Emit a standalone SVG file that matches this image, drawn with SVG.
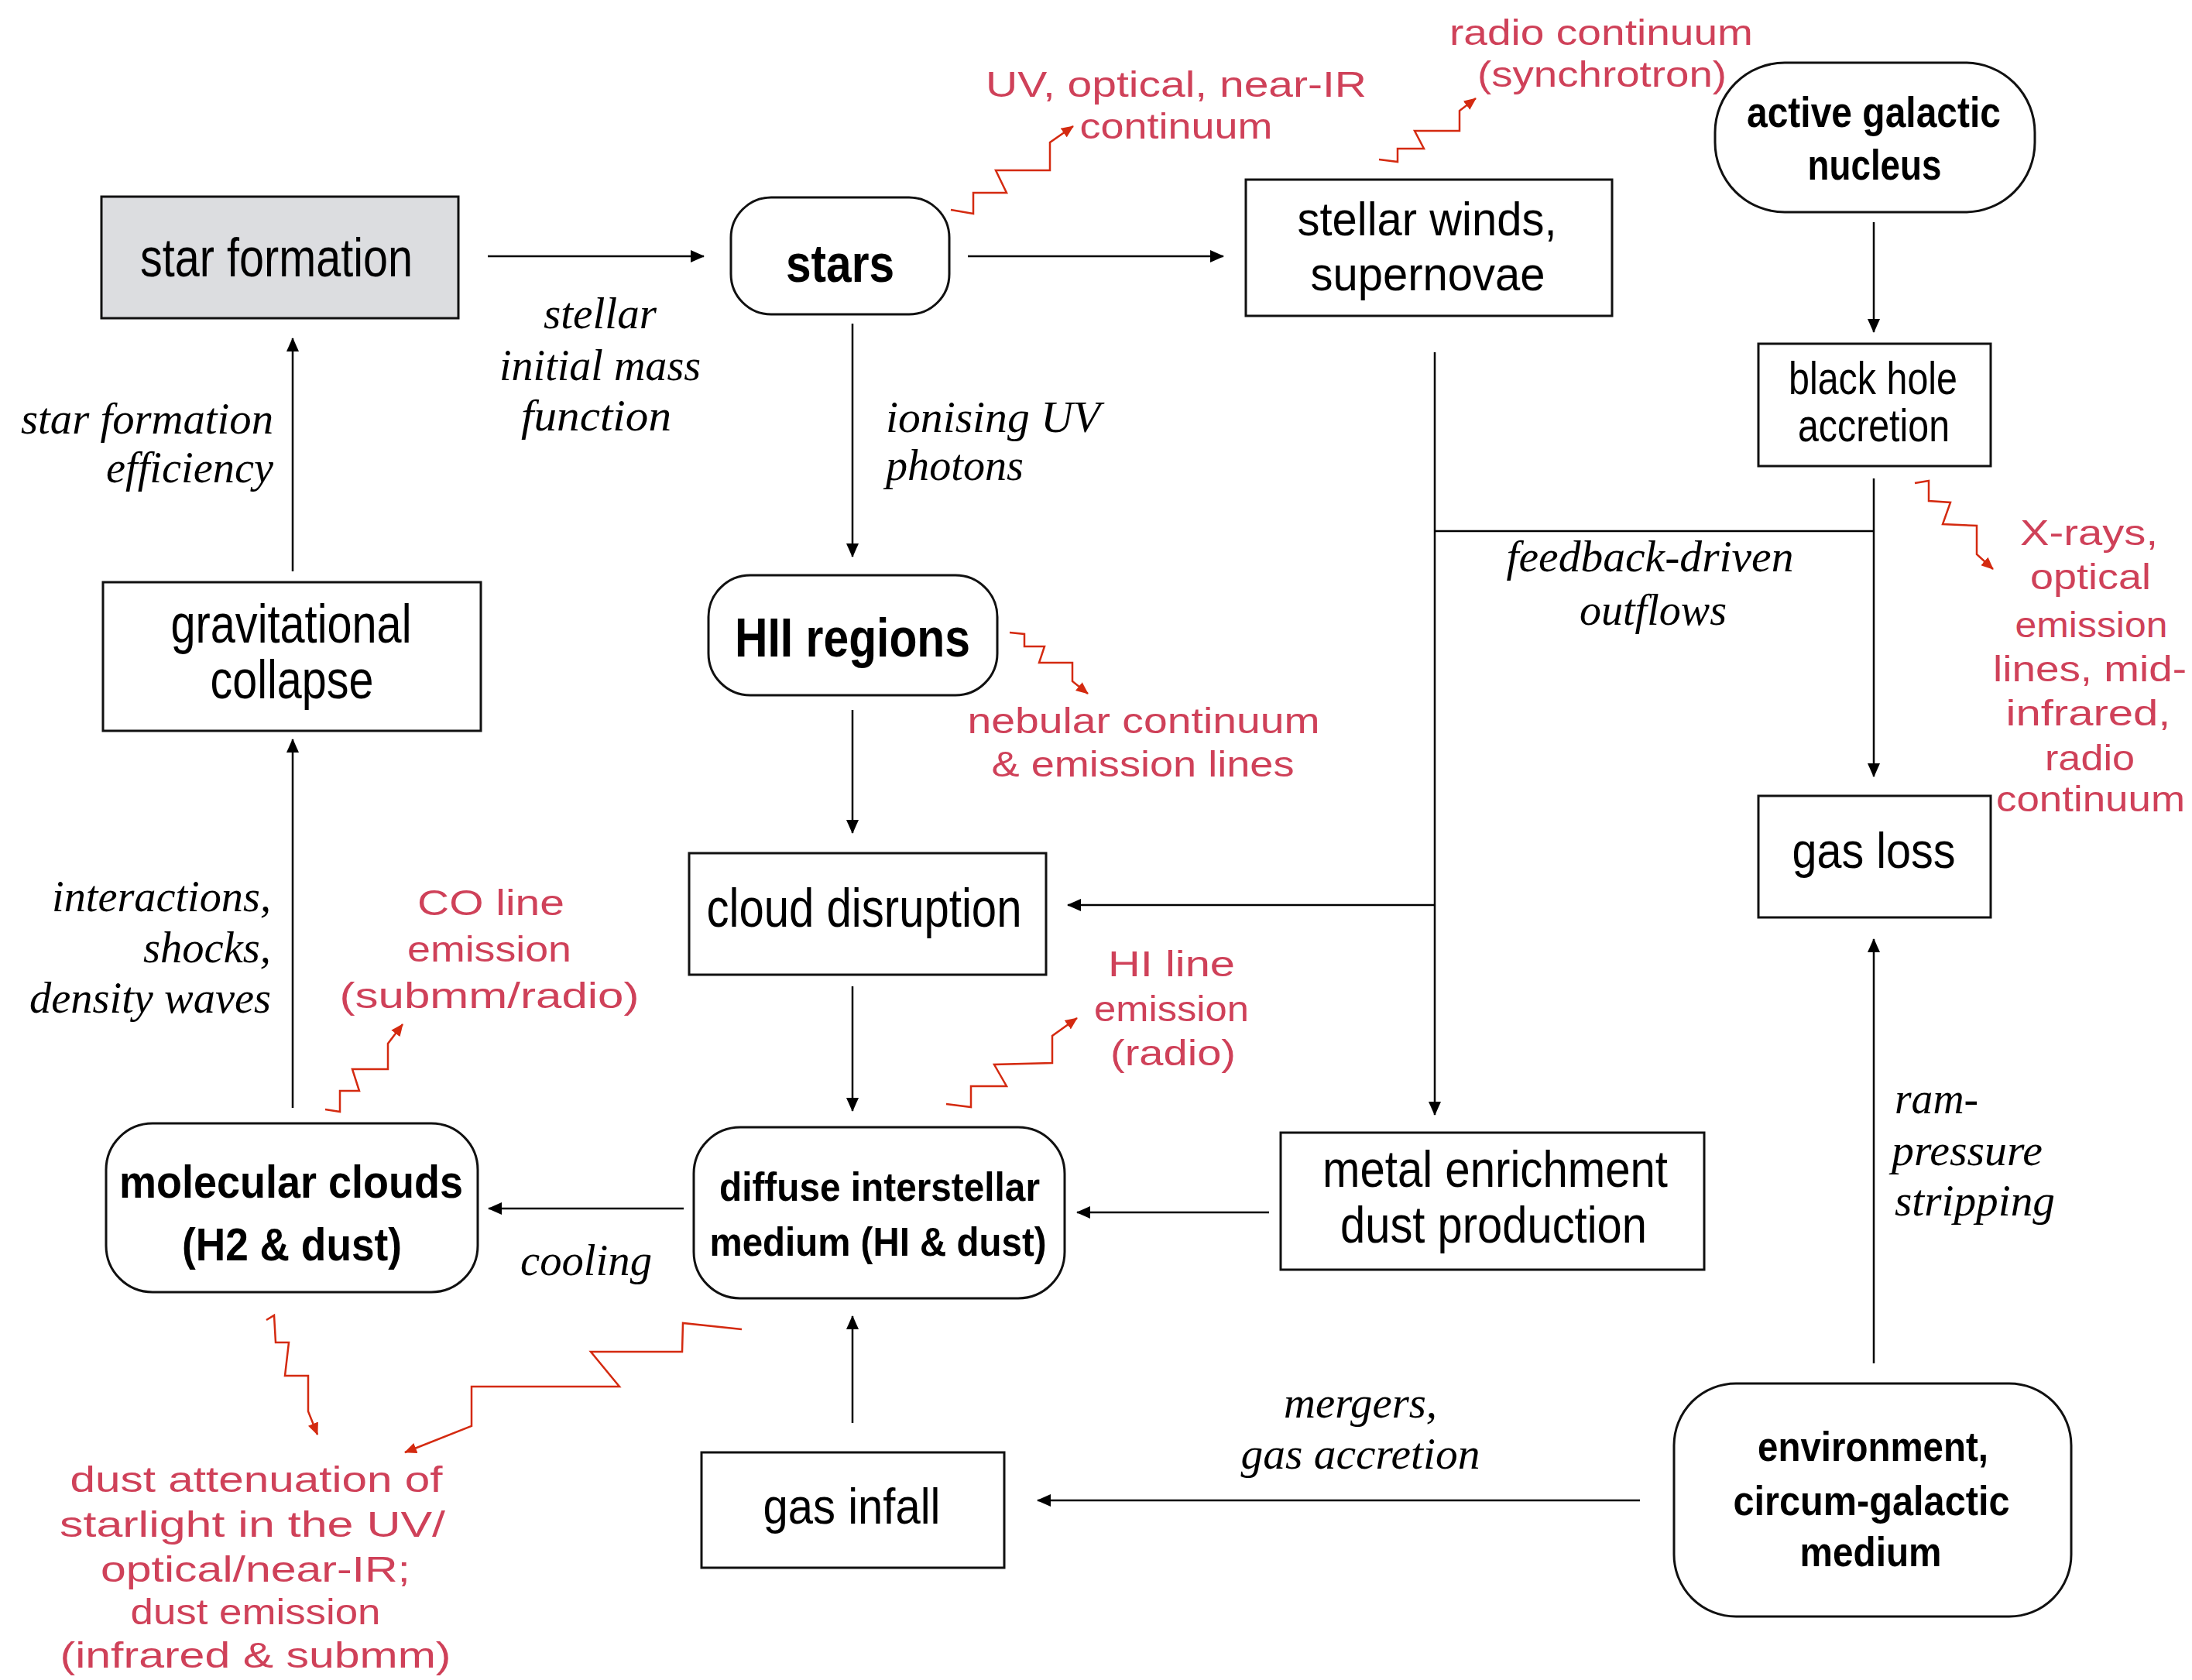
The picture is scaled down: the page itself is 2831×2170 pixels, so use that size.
<svg xmlns="http://www.w3.org/2000/svg" width="2831" height="2170" viewBox="0 0 2831 2170">
<defs>
<style>
.box{fill:#fff;stroke:#111;stroke-width:3}
.t{font-family:"Liberation Sans",Arial,sans-serif;fill:#000;text-anchor:middle}
.b{font-weight:bold}
.i{font-family:"Liberation Serif","Times New Roman",serif;font-style:italic;fill:#000}
.r{font-family:"Liberation Sans",Arial,sans-serif;fill:#cf4159;text-anchor:middle;font-size:46px}
.c{fill:none;stroke:#000;stroke-width:2.5}
.w{fill:none;stroke:#d42a10;stroke-width:2.5;stroke-linejoin:miter}
</style>
<marker id="ah" markerUnits="userSpaceOnUse" markerWidth="18" markerHeight="18" viewBox="0 0 18 16" refX="17" refY="8" orient="auto">
<path d="M0,0 L18,8 L0,16 Z" fill="#000"/>
</marker>
<marker id="rh" markerUnits="userSpaceOnUse" markerWidth="16" markerHeight="14" viewBox="0 0 16 14" refX="15" refY="7" orient="auto">
<path d="M0,0 L16,7 L0,14 Z" fill="#d42a10"/>
</marker>
</defs>
<rect width="2831" height="2170" fill="#fff"/>

<g id="connectors">
<path class="c" d="M630,331 H909" marker-end="url(#ah)"/>
<path class="c" d="M1250,331 H1580" marker-end="url(#ah)"/>
<path class="c" d="M1101,418 V719" marker-end="url(#ah)"/>
<path class="c" d="M1101,917 V1076" marker-end="url(#ah)"/>
<path class="c" d="M1101,1274 V1435" marker-end="url(#ah)"/>
<path class="c" d="M1853,455 V1440" marker-end="url(#ah)"/>
<path class="c" d="M1853,1169 H1379" marker-end="url(#ah)"/>
<path class="c" d="M1853,686 H2420"/>
<path class="c" d="M2420,618 V1003" marker-end="url(#ah)"/>
<path class="c" d="M2420,287 V429" marker-end="url(#ah)"/>
<path class="c" d="M2420,1761 V1213" marker-end="url(#ah)"/>
<path class="c" d="M2118,1938 H1340" marker-end="url(#ah)"/>
<path class="c" d="M1101,1838 V1700" marker-end="url(#ah)"/>
<path class="c" d="M1639,1566 H1391" marker-end="url(#ah)"/>
<path class="c" d="M883,1561 H631" marker-end="url(#ah)"/>
<path class="c" d="M378,1431 V955" marker-end="url(#ah)"/>
<path class="c" d="M378,738 V437" marker-end="url(#ah)"/>
</g>

<g id="emission-arrows">
<polyline class="w" points="1228,271 1257,276 1257,249 1300,249 1286,220 1356,220 1356,184 1386,163" marker-end="url(#rh)"/>
<polyline class="w" points="1781,206 1805,209 1805,192 1839,192 1827,169 1885,169 1885,143 1906,127" marker-end="url(#rh)"/>
<polyline class="w" points="2473,624 2491,621 2491,647 2519,649 2509,677 2553,679 2553,716 2574,735" marker-end="url(#rh)"/>
<polyline class="w" points="1304,817 1323,819 1323,835 1349,835 1342,856 1385,856 1385,880 1405,896" marker-end="url(#rh)"/>
<polyline class="w" points="1222,1426 1254,1430 1254,1403 1300,1403 1284,1375 1359,1373 1359,1338 1391,1315" marker-end="url(#rh)"/>
<polyline class="w" points="420,1433 439,1436 439,1409 464,1409 455,1381 501,1381 501,1348 520,1323" marker-end="url(#rh)"/>
<polyline class="w" points="344,1705 354,1699 356,1734 373,1734 368,1777 398,1777 398,1823 410,1853" marker-end="url(#rh)"/>
<polyline class="w" points="958,1717 882,1709 881,1746 763,1746 800,1791 609,1791 609,1842 523,1876" marker-end="url(#rh)"/>
</g>

<g id="star-formation">
<rect x="131" y="254" width="461" height="157" fill="#dcdde0" stroke="#111" stroke-width="3"/>
<text class="t" x="357" y="357" font-size="70" textLength="352" lengthAdjust="spacingAndGlyphs">star formation</text>
</g>
<g id="stars">
<rect class="box" x="944" y="255" width="282" height="151" rx="52"/>
<text class="t b" x="1085" y="364" font-size="68" textLength="140" lengthAdjust="spacingAndGlyphs">stars</text>
</g>
<g id="stellar-winds">
<rect class="box" x="1609" y="232" width="473" height="176"/>
<text class="t" x="1843" y="304" font-size="62" textLength="335" lengthAdjust="spacingAndGlyphs">stellar winds,</text>
<text class="t" x="1844" y="375" font-size="62" textLength="303" lengthAdjust="spacingAndGlyphs">supernovae</text>
</g>
<g id="agn">
<rect class="box" x="2215" y="81" width="413" height="193" rx="90"/>
<text class="t b" x="2420" y="164" font-size="56" textLength="328" lengthAdjust="spacingAndGlyphs">active galactic</text>
<text class="t b" x="2421" y="232" font-size="56" textLength="173" lengthAdjust="spacingAndGlyphs">nucleus</text>
</g>
<g id="black-hole-accretion">
<rect class="box" x="2271" y="444" width="300" height="158"/>
<text class="t" x="2419" y="509" font-size="60" textLength="218" lengthAdjust="spacingAndGlyphs">black hole</text>
<text class="t" x="2420" y="570" font-size="60" textLength="196" lengthAdjust="spacingAndGlyphs">accretion</text>
</g>
<g id="gas-loss">
<rect class="box" x="2271" y="1028" width="300" height="157"/>
<text class="t" x="2420" y="1121" font-size="64" textLength="211" lengthAdjust="spacingAndGlyphs">gas loss</text>
</g>
<g id="gravitational-collapse">
<rect class="box" x="133" y="752" width="488" height="192"/>
<text class="t" x="376" y="830" font-size="70" textLength="311" lengthAdjust="spacingAndGlyphs">gravitational</text>
<text class="t" x="377" y="902" font-size="70" textLength="211" lengthAdjust="spacingAndGlyphs">collapse</text>
</g>
<g id="hii-regions">
<rect class="box" x="915" y="743" width="373" height="155" rx="54"/>
<text class="t b" x="1101" y="848" font-size="70" textLength="304" lengthAdjust="spacingAndGlyphs">HII regions</text>
</g>
<g id="cloud-disruption">
<rect class="box" x="890" y="1102" width="461" height="157"/>
<text class="t" x="1116" y="1197" font-size="70" textLength="407" lengthAdjust="spacingAndGlyphs">cloud disruption</text>
</g>
<g id="diffuse-ism">
<rect class="box" x="896" y="1456" width="479" height="221" rx="60"/>
<text class="t b" x="1136" y="1551" font-size="52" textLength="414" lengthAdjust="spacingAndGlyphs">diffuse interstellar</text>
<text class="t b" x="1134" y="1622" font-size="52" textLength="435" lengthAdjust="spacingAndGlyphs">medium (HI &amp; dust)</text>
</g>
<g id="metal-enrichment">
<rect class="box" x="1654" y="1463" width="547" height="177"/>
<text class="t" x="1931" y="1533" font-size="66" textLength="446" lengthAdjust="spacingAndGlyphs">metal enrichment</text>
<text class="t" x="1929" y="1605" font-size="66" textLength="396" lengthAdjust="spacingAndGlyphs">dust production</text>
</g>
<g id="molecular-clouds">
<rect class="box" x="137" y="1451" width="480" height="218" rx="60"/>
<text class="t b" x="376" y="1547" font-size="60" textLength="444" lengthAdjust="spacingAndGlyphs">molecular clouds</text>
<text class="t b" x="377" y="1628" font-size="60" textLength="284" lengthAdjust="spacingAndGlyphs">(H2 &amp; dust)</text>
</g>
<g id="gas-infall">
<rect class="box" x="906" y="1876" width="391" height="149"/>
<text class="t" x="1100" y="1968" font-size="64" textLength="229" lengthAdjust="spacingAndGlyphs">gas infall</text>
</g>
<g id="environment">
<rect class="box" x="2162" y="1787" width="513" height="301" rx="80"/>
<text class="t b" x="2419" y="1887" font-size="54" textLength="298" lengthAdjust="spacingAndGlyphs">environment,</text>
<text class="t b" x="2417" y="1957" font-size="54" textLength="357" lengthAdjust="spacingAndGlyphs">circum-galactic</text>
<text class="t b" x="2416" y="2023" font-size="54" textLength="183" lengthAdjust="spacingAndGlyphs">medium</text>
</g>

<g id="process-labels" font-size="56">
<text class="i" x="775" y="424" text-anchor="middle" textLength="146" lengthAdjust="spacingAndGlyphs">stellar</text>
<text class="i" x="775" y="491" text-anchor="middle" textLength="260" lengthAdjust="spacingAndGlyphs">initial mass</text>
<text class="i" x="770" y="556" text-anchor="middle" textLength="194" lengthAdjust="spacingAndGlyphs">function</text>
<text class="i" x="353" y="560" text-anchor="end" textLength="326" lengthAdjust="spacingAndGlyphs">star formation</text>
<text class="i" x="353" y="623" text-anchor="end" textLength="216" lengthAdjust="spacingAndGlyphs">efficiency</text>
<text class="i" x="1144" y="558" textLength="277" lengthAdjust="spacingAndGlyphs">ionising UV</text>
<text class="i" x="1144" y="620" textLength="178" lengthAdjust="spacingAndGlyphs">photons</text>
<text class="i" x="2131" y="738" text-anchor="middle" textLength="371" lengthAdjust="spacingAndGlyphs">feedback-driven</text>
<text class="i" x="2135" y="807" text-anchor="middle" textLength="190" lengthAdjust="spacingAndGlyphs">outflows</text>
<text class="i" x="350" y="1177" text-anchor="end" textLength="283" lengthAdjust="spacingAndGlyphs">interactions,</text>
<text class="i" x="350" y="1243" text-anchor="end" textLength="165" lengthAdjust="spacingAndGlyphs">shocks,</text>
<text class="i" x="350" y="1308" text-anchor="end" textLength="312" lengthAdjust="spacingAndGlyphs">density waves</text>
<text class="i" x="757" y="1647" text-anchor="middle" textLength="170" lengthAdjust="spacingAndGlyphs">cooling</text>
<text class="i" x="1757" y="1831" text-anchor="middle" textLength="198" lengthAdjust="spacingAndGlyphs">mergers,</text>
<text class="i" x="1757" y="1897" text-anchor="middle" textLength="309" lengthAdjust="spacingAndGlyphs">gas accretion</text>
<text class="i" x="2447" y="1438" textLength="108" lengthAdjust="spacingAndGlyphs">ram-</text>
<text class="i" x="2443" y="1505" textLength="195" lengthAdjust="spacingAndGlyphs">pressure</text>
<text class="i" x="2447" y="1570" textLength="207" lengthAdjust="spacingAndGlyphs">stripping</text>
</g>

<g id="emission-labels">
<text class="r" x="1519" y="125" textLength="492" lengthAdjust="spacingAndGlyphs">UV, optical, near-IR</text>
<text class="r" x="1519" y="179" textLength="249" lengthAdjust="spacingAndGlyphs">continuum</text>
<text class="r" x="2068" y="58" textLength="392" lengthAdjust="spacingAndGlyphs">radio continuum</text>
<text class="r" x="2069" y="112" textLength="322" lengthAdjust="spacingAndGlyphs">(synchrotron)</text>
<text class="r" x="1477" y="947" textLength="455" lengthAdjust="spacingAndGlyphs">nebular continuum</text>
<text class="r" x="1476" y="1003" textLength="391" lengthAdjust="spacingAndGlyphs">&amp; emission lines</text>
<text class="r" x="1513" y="1261" textLength="164" lengthAdjust="spacingAndGlyphs">HI line</text>
<text class="r" x="1513" y="1319" textLength="200" lengthAdjust="spacingAndGlyphs">emission</text>
<text class="r" x="1515" y="1376" textLength="162" lengthAdjust="spacingAndGlyphs">(radio)</text>
<text class="r" x="634" y="1182" textLength="190" lengthAdjust="spacingAndGlyphs">CO line</text>
<text class="r" x="632" y="1242" textLength="212" lengthAdjust="spacingAndGlyphs">emission</text>
<text class="r" x="632" y="1302" textLength="387" lengthAdjust="spacingAndGlyphs">(submm/radio)</text>
<text class="r" x="2698" y="704" textLength="178" lengthAdjust="spacingAndGlyphs">X-rays,</text>
<text class="r" x="2700" y="761" textLength="156" lengthAdjust="spacingAndGlyphs">optical</text>
<text class="r" x="2701" y="823" textLength="197" lengthAdjust="spacingAndGlyphs">emission</text>
<text class="r" x="2699" y="880" textLength="250" lengthAdjust="spacingAndGlyphs">lines, mid-</text>
<text class="r" x="2697" y="937" textLength="213" lengthAdjust="spacingAndGlyphs">infrared,</text>
<text class="r" x="2699" y="995" textLength="116" lengthAdjust="spacingAndGlyphs">radio</text>
<text class="r" x="2700" y="1048" textLength="244" lengthAdjust="spacingAndGlyphs">continuum</text>
<text class="r" x="331" y="1927" textLength="481" lengthAdjust="spacingAndGlyphs">dust attenuation of</text>
<text class="r" x="326" y="1985" textLength="498" lengthAdjust="spacingAndGlyphs">starlight in the UV/</text>
<text class="r" x="330" y="2043" textLength="400" lengthAdjust="spacingAndGlyphs">optical/near-IR;</text>
<text class="r" x="330" y="2098" textLength="323" lengthAdjust="spacingAndGlyphs">dust emission</text>
<text class="r" x="330" y="2154" textLength="505" lengthAdjust="spacingAndGlyphs">(infrared &amp; submm)</text>
</g>
</svg>
